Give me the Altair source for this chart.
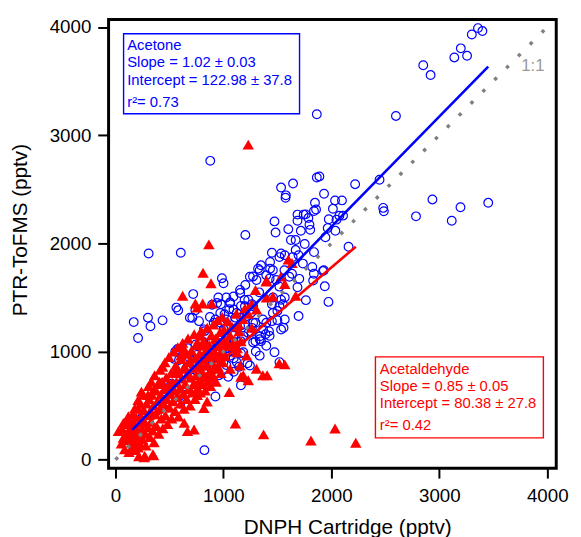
import altair as alt
import pandas as pd

# ---------------- data ----------------
acetone_pts = [
    (3358,3990),(3399,3963),(3301,3931),(3199,3803),(3139,3719),(3257,3734),(2851,3647),(2919,3556),
    (2598,3178),(1865,3194),(878,2763),(3453,2375),(3196,2334),(2936,2406),(2784,2250),(3115,2209),
    (2480,2328),(2486,2297),(2446,2588),(2220,2547),(2159,1969),(1973,1459),(1939,1603),(1922,1744),
    (1865,2609),(1889,2619),(1645,2553),(1534,2516),(1578,2444),(1575,2422),(1932,2459),(1848,2375),
    (1858,2313),(2034,2397),(2098,2397),(2014,2319),(2074,2256),(2108,2256),(2047,2219),(1966,2141),
    (1787,2234),(1797,2172),(1804,2125),(1743,2266),(1686,2266),(1686,2209),(1601,2131),(1625,2031),
    (1669,2031),(1473,2203),(1483,2100),(1203,2078),(1753,1994),(1669,1938),(1696,1891),(1534,1906),
    (1568,1891),(1449,1913),(1432,1828),(1348,1797),(1321,1766),(1432,1766),(1274,1694),(1203,1616),
    (986,1678),(720,1531),(605,1913),(307,1906),(1736,1813),(1635,1719),(1703,1672),(1686,1594),
    (1838,1719),(1831,1656),(1764,1475),(1696,1328),(1568,1297),(1557,1219),(1534,1203),(1449,1281),
    (1500,1375),(1551,1438),(1568,1500),(1459,1500),(1449,1438),(1365,1297),(1422,1188),(1338,1141),
    (1297,1094),(1348,1094),(1297,1266),(1257,1359),(1264,1438),(1331,1547),(1155,1541),(1196,1478),
    (1162,1422),(1027,1500),(953,1500),(976,1438),(1061,1453),(1054,1391),(1010,1344),(926,1297),
    (875,1319),(976,1266),(1027,1219),(1111,1313),(1162,1313),(1128,1219),(1203,1250),(1230,1172),
    (1264,1219),(1162,1094),(1095,1094),(1027,1094),(959,1063),(892,1094),(824,1188),(774,1281),
    (689,1313),(740,1381),(581,1381),(564,1406),(436,1288),(301,1313),(324,1234),(169,1272),
    (209,1125),(554,1000),(588,922),(689,938),(757,969),(858,1000),(993,969),(1095,938),
    (1162,984),(1223,891),(1145,859),(1095,813),(959,781),(892,828),(1027,875),(1162,688),
    (1044,766),(926,584),(824,88),(824,906),(926,938),(1044,1031),(808,1094),(740,1063),
    (672,1031),(520,703),(503,672),(622,781),(655,844),(723,875),(453,594),(712,1312),
    (1001,1631),(895,1433),(941,1448),(1093,1509),(1154,1570),(1230,1479),(1275,1418),(1245,1691),
    (1306,1661),(1397,1706),(1488,1661),(1534,1479),(1519,1418),(1458,1357),(1397,1266),(1367,1205),
    (1428,1145),(1397,1053),(1473,993),(1519,902),(1336,962),(1245,871),(1123,902),(1062,962),
    (1001,841),(849,826),(788,902),(728,993),(575,1023),(545,932),(1093,1145),(1154,1236),
    (1032,1297),(971,1357),(1093,1388),(1214,1327),(1275,1266),(1184,1145),(1001,1205),(910,1266),
    (849,1145),(819,1205),(1275,1084),(1336,1114),(1184,993),(941,1084),(1062,1053),(880,993),
    (1123,1357),(1062,1448),(1199,1418),(1762,2268),(1839,2299),(1976,2223),(1717,2116),(1945,2056),
    (2037,2116),(1839,1919),(1641,1873),(1519,1873),(1336,1752),(1458,1752),(1565,1752),(1610,1691),
    (1823,1782),(1930,1752),(1519,1600),(1428,1676),(400,500),(350,430),(480,560),(560,640),
    (610,700),(700,760),(760,820),(820,740),(880,900),(650,600),(600,520),(250,400),
    (300,360),(1000,900),(950,1000),(900,980),(1060,1000),(1110,1030),(1260,1180),(1300,1000),
    (1390,1160),(1500,1290),
]

acetaldehyde_pts = [
    (1230,2913),(865,1991),(811,1728),(885,1631),(622,1516),(740,1444),(808,1444),(892,1444),
    (757,1406),(436,859),(1054,625),(1162,766),(1230,734),(1365,781),(1405,781),(1517,891),
    (1568,881),(1111,334),(1372,234),(1811,178),(2034,288),(2226,156),(267,22),(351,41),
    (216,31),(1601,1850),(1635,1819),(1534,1694),(1399,1656),(1568,1625),(1297,1569),(1399,1500),
    (1669,1516),(1264,1219),(1145,1188),(1162,1094),(1128,1031),(332,720),(408,720),(362,659),
    (240,629),(301,598),(210,552),(180,477),(119,401),(73,340),(27,264),(73,203),
    (149,158),(210,112),(271,36),(347,51),(667,264),(728,279),(637,340),(819,477),
    (849,538),(758,598),(879,750),(545,811),(637,841),(1397,1646),(1458,1509),(1306,1388),
    (788,1145),(758,1084),(819,1053),(941,1114),(1032,1084),(1093,1053),(1123,993),(1214,962),
    (1001,962),(880,962),(636,1023),(606,962),(697,932),(788,871),(910,841),(1062,841),
    (1154,871),(575,841),(1184,780),(1306,841),
    (55,150),(62,285),(85,95),(95,230),(102,330),(108,180),(118,260),(125,70),
    (133,355),(140,210),(146,290),(152,120),(160,420),(166,245),(171,330),(178,160),
    (185,90),(192,390),(198,270),(205,210),(212,470),(218,340),(225,150),(231,520),
    (238,400),(244,285),(250,190),(257,600),(262,460),(268,350),(275,240),(281,130),
    (288,520),(294,410),(300,300),(306,680),(312,560),(318,210),(325,450),(331,350),
    (338,600),(344,270),(350,500),(357,160),(362,780),(369,420),(375,640),(381,310),
    (388,540),(394,700),(400,240),(407,470),(413,830),(419,600),(425,380),(432,720),
    (438,290),(444,520),(451,650),(457,900),(463,410),(470,760),(476,560),(482,330),
    (489,680),(495,950),(501,480),(508,610),(514,800),(520,380),(527,710),(533,540),
    (539,1000),(546,640),(552,450),(558,870),(565,720),(571,580),(577,1040),(584,400),
    (590,800),(596,660),(603,520),(609,930),(615,750),(622,1080),(628,610),(634,470),
    (641,860),(647,700),(653,980),(660,560),(666,790),(672,1120),(679,650),(685,900),
    (691,500),(698,760),(704,1010),(710,620),(717,850),(723,700),(729,1160),(736,560),
    (742,940),(748,780),(755,650),(761,1060),(767,860),(774,720),(780,980),(786,620),
    (793,1190),(799,820),(805,700),(812,930),(818,1100),(824,760),(831,640),(837,1010),
    (843,870),(850,1220),(856,720),(862,950),(869,1060),(875,810),(881,680),(888,1150),
    (894,900),(900,780),(907,1250),(913,1000),(919,850),(926,1120),(932,720),(938,960),
    (945,1290),(951,860),(957,1050),(964,940),(970,1180),(976,800),(983,1010),(989,1320),
    (995,900),(1002,1100),(1008,1200),(1014,960),(1021,1050),(1040,1280),(1060,1150),(1080,1230),
    (1100,1100),(1120,1350),(1140,1250),(1180,1300),(1200,1400),(1230,1350),(1260,1440),
]

# fit lines (end points) and the 1:1 line
acetone_fit = [(155, 275), (3453, 3634)]
acetaldehyde_fit = [(150, 208), (2226, 1969)]
one_to_one = [(0, 0), (4000, 4000)]

tick_values = [0, 1000, 2000, 3000, 4000]

acetone_text = ["Acetone", "Slope = 1.02 \u00b1 0.03", "Intercept = 122.98 \u00b1 37.8", "r\u00b2= 0.73"]
acetaldehyde_text = ["Acetaldehyde", "Slope = 0.85 \u00b1 0.05", "Intercept = 80.38 \u00b1 27.8", "r\u00b2= 0.42"]

BLUE = "#0000FF"
RED = "#FF0000"
FONT = "Liberation Sans"

# ---------------- build ----------------
xscale = alt.Scale(domain=[-64, 4083], nice=False, zero=False)
yscale = alt.Scale(domain=[-79, 4069], nice=False, zero=False)

xaxis = alt.Axis(values=tick_values, title="DNPH Cartridge (pptv)", grid=False, domain=False,
                 tickSize=10, tickWidth=2, tickColor="black", labelFontSize=19, labelFont=FONT,
                 labelColor="black", labelPadding=9, labelFlush=False, format="d",
                 titleFont=FONT, titleFontSize=21, titleFontWeight="normal", titleColor="black",
                 titleX=242, titleY=60, titleAlign="center", titleBaseline="middle")
yaxis = alt.Axis(values=tick_values, title="PTR-ToFMS (pptv)", grid=False, domain=False,
                 tickSize=11, tickWidth=2, tickColor="black", labelFontSize=19, labelFont=FONT,
                 labelColor="black", labelPadding=7, labelFlush=False, format="d",
                 titleFont=FONT, titleFontSize=21, titleFontWeight="normal", titleColor="black",
                 titleX=-89, titleY=213, titleAlign="center", titleBaseline="middle", titleAngle=270)

X = alt.X("x:Q", scale=xscale, axis=xaxis)
Y = alt.Y("y:Q", scale=yscale, axis=yaxis)

df_ac = pd.DataFrame(acetone_pts, columns=["x", "y"])
df_al = pd.DataFrame(acetaldehyde_pts, columns=["x", "y"])

blue_pts = alt.Chart(df_ac).mark_point(shape="circle", filled=False, color=BLUE, size=78,
                                       strokeWidth=1.2, opacity=1).encode(x=X, y=Y)
red_pts = alt.Chart(df_al).mark_point(shape="triangle-up", filled=True, color=RED, size=135,
                                      opacity=1, strokeWidth=0).encode(x=X, y=Y)

red_line = alt.Chart(pd.DataFrame(acetaldehyde_fit, columns=["x", "y"])).mark_line(
    color=RED, strokeWidth=2.6).encode(x=X, y=Y)
blue_line = alt.Chart(pd.DataFrame(acetone_fit, columns=["x", "y"])).mark_line(
    color=BLUE, strokeWidth=2.6).encode(x=X, y=Y)
diag = alt.Chart(pd.DataFrame(one_to_one, columns=["x", "y"])).mark_line(
    color="#808080", strokeWidth=3.5, strokeDash=[3.5, 13.5]).encode(x=X, y=Y)

label_11 = alt.Chart(pd.DataFrame({"x": [3866], "y": [3636], "t": ["1:1"]})).mark_text(
    font=FONT, fontSize=17, color="#999999", align="center", baseline="middle").encode(
    x=X, y=Y, text="t:N")

boxes_df = pd.DataFrame({"x": [75, 2408], "x2": [1705, 3964], "y": [3938, 951], "y2": [3198, 202],
                         "c": [BLUE, RED]})
boxes = alt.Chart(boxes_df).mark_rect(fillOpacity=0, strokeWidth=1.4).encode(
    x=X, x2="x2:Q", y=Y, y2="y2:Q", stroke=alt.Color("c:N", scale=None))

txt_rows = []
for t, yy in zip(acetone_text, [3831, 3676, 3510, 3306]):
    txt_rows.append({"x": 109, "y": yy, "t": t, "c": BLUE})
for t, yy in zip(acetaldehyde_text, [836, 677, 521, 316]):
    txt_rows.append({"x": 2449, "y": yy, "t": t, "c": RED})
texts = alt.Chart(pd.DataFrame(txt_rows)).mark_text(
    font=FONT, fontSize=15, align="left", baseline="middle").encode(
    x=X, y=Y, text="t:N", color=alt.Color("c:N", scale=None))

chart = alt.layer(blue_pts, red_pts, red_line, blue_line, diag, label_11, boxes, texts).properties(
    width=454, height=455,
    autosize=alt.AutoSizeParams(type="none"),
    padding={"left": 102, "top": 8, "right": 17, "bottom": 66},
    background="white",
).configure_view(stroke="black", strokeWidth=3)

chart.save("out.html", embed_options={"renderer": "svg", "actions": False})
